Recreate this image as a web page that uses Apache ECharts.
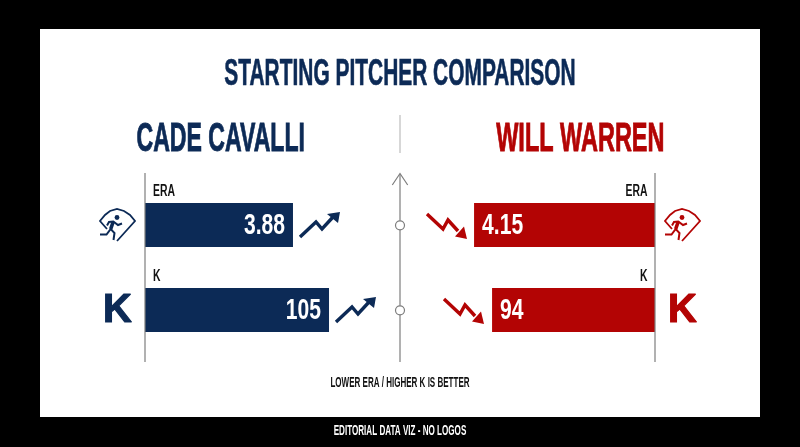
<!DOCTYPE html>
<html><head><meta charset="utf-8">
<style>html,body{margin:0;padding:0;background:#000}#c{width:800px;height:447px}</style>
<script src="https://cdn.jsdelivr.net/npm/echarts@6/dist/echarts.min.js"></script>
</head><body><div id="c"></div>
<script>
const pitchers = ["CADE CAVALLI", "WILL WARREN"];
const metrics = ["ERA", "K"];
const cavalliValues = [3.88, 105];
const warrenValues = [4.15, 94];
const valueLabels = [["3.88", "105"], ["4.15", "94"]];
const chartTitle = "STARTING PITCHER COMPARISON";
const note = "LOWER ERA / HIGHER K IS BETTER";
const footer = "EDITORIAL DATA VIZ - NO LOGOS";

const NAVY = "#0c2a56", RED = "#b30404", GRAY = "#7d7d7d";
const FONT = '"Liberation Sans Narrow","Liberation Sans",sans-serif';
const WIDE = '"Liberation Sans",sans-serif';

function txt(text, x, y, cap, fill, align, sx, heavy) {
  const fs = cap / 0.716;
  const style = {text, fontFamily:FONT, fontWeight:"bold", fontSize:fs, fill, align, verticalAlign:"middle"};
  if (heavy) { style.stroke = fill; style.lineWidth = heavy; }
  return {type:"text", x, y, scaleX:sx, scaleY:1, z:10, style};
}
function pl(points, x, y, c, w) {
  return {type:"polyline", x, y, z:10, shape:{points}, style:{fill:null, stroke:c, lineWidth:w}};
}
function pg(points, x, y, c) {
  return {type:"polygon", x, y, z:10, shape:{points}, style:{fill:c}};
}
function arrowUp(x, y, c) {
  return [
    pl([[0,0],[16,-15],[22,-8],[33,-20]], x, y, c, 3.4),
    pg([[40,-25],[27,-23],[38,-14]], x, y, c)
  ];
}
function arrowDown(x, y, c) {
  return [
    pl([[0,0],[16,15],[21,6],[31,17]], x, y, c, 3.4),
    pg([[40,25],[28,22.5],[37,12.5]], x, y, c)
  ];
}
function runner(x, y, c) {
  return [
    pl([[0,17],[18,-3],[13,-9],[7,-13],[0,-15],[-7,-13],[-12,-9],[-17,-3],[-10,5]], x, y, c, 1.8),
    pl([[-3.7,-2.5],[-6.3,5]], x, y, c, 3.6),
    pl([[-17,10.5],[-10.5,10.5],[-6.3,5],[-2.5,9],[-3.5,16]], x, y, c, 2),
    pl([[-10,1.5],[-8,-2],[-3.7,-2.5],[1,1],[5,-0.5]], x, y, c, 2),
    {type:"circle", x, y, z:10, shape:{cx:0, cy:-6.5, r:2.4}, style:{fill:c}}
  ];
}
function bigK(x, y, c) {
  return {type:"text", x, y, z:10, style:{text:"K", fontFamily:WIDE, fontWeight:"bold", fontSize:40, fill:c, stroke:c, lineWidth:1.2, align:"center", verticalAlign:"middle"}};
}
function vline(x, y1, y2, c, w) {
  return {type:"line", z:10, shape:{x1:x, y1, x2:x, y2}, style:{stroke:c, lineWidth:w}};
}

const graphics = [
  {type:"rect", z:-1, shape:{x:40, y:29, width:720, height:388}, style:{fill:"#fff"}},
  txt(chartTitle, 400, 75, 27, NAVY, "center", 0.555, 0.7),
  txt(pitchers[0], 136.5, 140, 29, NAVY, "left", 0.57, 0.9),
  txt(pitchers[1], 664.5, 140, 29, RED, "right", 0.58, 0.9),
  vline(400, 115, 153, "#bdbdbd", 1.2),
  vline(145, 173, 362, GRAY, 1.2),
  vline(655, 173, 362, GRAY, 1.2),
  vline(400, 174, 362, GRAY, 1.2),
  pl([[392.3,185],[400,173.5],[407.7,185]], 0, 0, GRAY, 1.2),
  {type:"circle", z:11, shape:{cx:400, cy:225.3, r:4.5}, style:{fill:"#fff", stroke:GRAY, lineWidth:1.2}},
  {type:"circle", z:11, shape:{cx:400, cy:310.3, r:4.5}, style:{fill:"#fff", stroke:GRAY, lineWidth:1.2}},
  txt(metrics[0], 153, 191, 12, "#111", "left", 0.62),
  txt(metrics[1], 153, 276, 12, "#111", "left", 0.62),
  txt(metrics[0], 647.5, 191, 12, "#111", "right", 0.62),
  txt(metrics[1], 647.5, 276, 12, "#111", "right", 0.62),
  txt(note, 400, 383, 10, "#111", "center", 0.575),
  txt(footer, 400, 431.5, 10, "#fff", "center", 0.58),
  ...arrowUp(300, 237, NAVY), ...arrowUp(336, 322, NAVY),
  ...arrowDown(427, 214, RED), ...arrowDown(444, 299, RED),
  ...runner(117, 224, NAVY), ...runner(682, 224, RED),
  bigK(117.5, 310.5, NAVY), bigK(682.5, 310.5, RED)
];

const panels = [
  {vals:cavalliValues, i:0, max:5,   w:190.7, c:NAVY, side:"l", top:203, lab:valueLabels[0][0]},
  {vals:cavalliValues, i:1, max:120, w:210.3, c:NAVY, side:"l", top:288, lab:valueLabels[0][1]},
  {vals:warrenValues,  i:0, max:5,   w:218,   c:RED,  side:"r", top:203, lab:valueLabels[1][0]},
  {vals:warrenValues,  i:1, max:120, w:208,   c:RED,  side:"r", top:288, lab:valueLabels[1][1]}
];
const grid = [], xAxis = [], yAxis = [], series = [];
panels.forEach((p, n) => {
  grid.push(Object.assign({top:p.top, height:44, width:p.w}, p.side === "l" ? {left:145} : {right:145}));
  xAxis.push({type:"value", gridIndex:n, min:0, max:p.max, inverse:p.side === "r", show:false});
  yAxis.push({type:"category", gridIndex:n, data:[metrics[p.i]], show:false});
  series.push({type:"bar", xAxisIndex:n, yAxisIndex:n, data:[p.vals[p.i]], barWidth:"100%", itemStyle:{color:p.c}, silent:true, animation:false});
  series.push({type:"custom", xAxisIndex:n, yAxisIndex:n, data:[[p.vals[p.i], 0]], silent:true, animation:false, z:5,
    encode:{x:0, y:1},
    renderItem:(params, api) => {
      const pt = api.coord([api.value(0), 0]);
      const left = p.side === "l";
      return {type:"text", x:pt[0] + (left ? -8 : 8), y:pt[1] + 1, scaleX:0.72,
        style:{text:p.lab, fontFamily:FONT, fontWeight:"bold", fontSize:21/0.716, fill:"#fff", align:left ? "right" : "left", verticalAlign:"middle"}};
    }});
});

const chart = echarts.init(document.getElementById("c"), null, {renderer:"canvas"});
chart.setOption({backgroundColor:"#000", animation:false, grid, xAxis, yAxis, series, graphic:{elements:graphics}});
</script></body></html>
